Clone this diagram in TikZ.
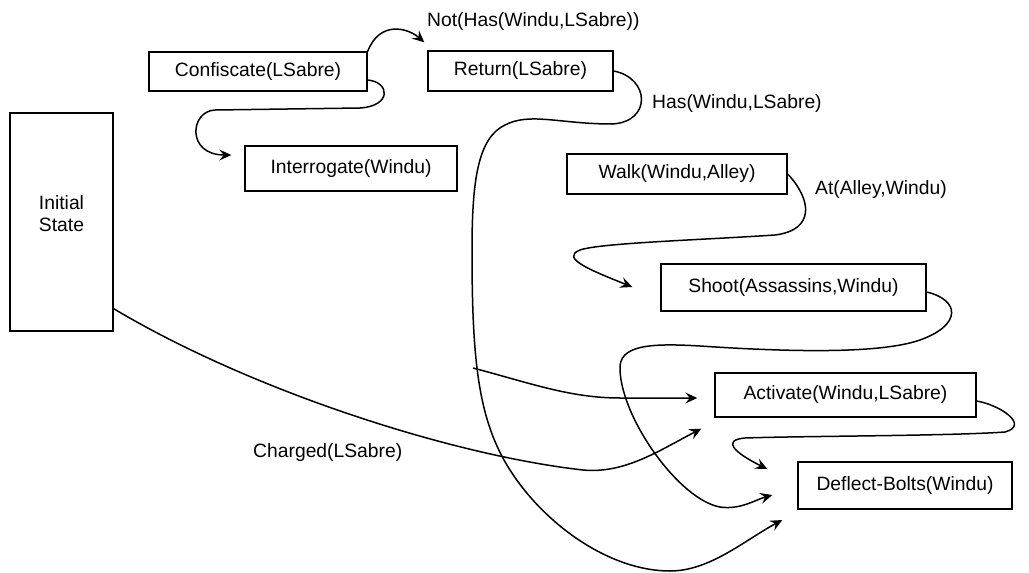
\documentclass[tikz,border=0pt]{standalone}
\usepackage{fontspec}
\setmainfont{Liberation Sans}
\usetikzlibrary{arrows.meta,calc}

\begin{document}
\begin{tikzpicture}[
    x=1pt, y=-1pt,
    font=\fontsize{19.3}{22}\selectfont,
    box/.style={draw=black, line width=1.4pt, inner sep=0pt, align=center},
    arr/.style={-{Stealth[length=12pt, width=11pt, inset=4.5pt]}, line width=1.5pt},
    lbl/.style={anchor=base west, inner sep=0pt}
]
\useasboundingbox (0,0) rectangle (1029,573);

% action boxes
\node[box, minimum width=103pt, minimum height=218pt] (init) at (61.5,222) {};
\node[align=center, inner sep=0pt] (initlbl) at (61.5,213.5) {Initial\\State};
\node[box, minimum width=218pt, minimum height=39pt] (confiscate) at (258,71.5) {Confiscate(LSabre)};
\node[box, minimum width=185pt, minimum height=40pt] (return) at (520.5,71) {Return(LSabre)};
\node[box, minimum width=212pt, minimum height=45pt] (interrogate) at (351,168.5) {Interrogate(Windu)};
\node[box, minimum width=220pt, minimum height=40pt] (walk) at (677,174) {Walk(Windu,Alley)};
\node[box, minimum width=265pt, minimum height=47pt] (shoot) at (793.5,287.5) {Shoot(Assassins,Windu)};
\node[box, minimum width=261pt, minimum height=44pt] (activate) at (845.5,395) {Activate(Windu,LSabre)};
\node[box, minimum width=214pt, minimum height=47pt] (deflect) at (905,485.5) {Deflect-Bolts(Windu)};

% condition labels
\node[lbl] (notlbl) at (427,26) {Not(Has(Windu,LSabre))};
\node[lbl] (haslbl) at (652,108) {Has(Windu,LSabre)};
\node[lbl] (atlbl) at (815,194) {At(Alley,Windu)};
\node[lbl] (chargedlbl) at (253,457) {Charged(LSabre)};

% causal links
\draw[arr] (confiscate.north east) .. controls (380,20) and (408,28) .. ([shift={(-3,-8)}]return.north west);
\draw[arr] ([shift={(0,8.5)}]confiscate.east) .. controls (390,82) and (392,106) .. (360,108) -- (215,110) .. controls (190,111) and (186,155) .. ([shift={(-13,-13.5)}]interrogate.west);
\draw[arr] (return.east) .. controls (650,78) and (652,122) .. (612,124) .. controls (560,124) and (530,112) .. (505,125) .. controls (478,138) and (472,180) .. (472,250) .. controls (472,360) and (478,420) .. (510,470) .. controls (545,525) and (610,571) .. (670,571) .. controls (710,571) and (745,540) .. ([shift={(-15,34.5)}]deflect.west);
\coordinate (hasfork) at (473,368);
\draw[arr] (hasfork) .. controls (530,383) and (570,398) .. (620,398) -- ([shift={(-17,3)}]activate.west);
\draw[arr] (walk.east) .. controls (812,200) and (815,230) .. (775,235) .. controls (700,240) and (600,243) .. (580,250) .. controls (560,258) and (590,270) .. ([shift={(-28,-0.5)}]shoot.west);
\draw[arr] ([shift={(0,4.5)}]shoot.east) .. controls (960,300) and (962,325) .. (920,340) .. controls (880,354) and (790,352) .. (700,346) .. controls (650,343) and (618,345) .. (620,370) .. controls (622,420) and (680,500) .. (720,507) .. controls (740,510) and (755,500) .. ([shift={(-25,9.5)}]deflect.west);
\draw[arr] ([shift={(0,6)}]activate.east) .. controls (1000,405) and (1030,425) .. (1005,432) .. controls (950,436) and (800,436) .. (745,438) .. controls (722,440) and (733,452) .. ([shift={(-30,-16.5)}]deflect.west);
\draw[arr] ([shift={(0,-23)}]init.south east) .. controls (250,390) and (450,455) .. (583,470) .. controls (625,474) and (660,450) .. ([shift={(-13,11)}]activate.south west);

\end{tikzpicture}
\end{document}
